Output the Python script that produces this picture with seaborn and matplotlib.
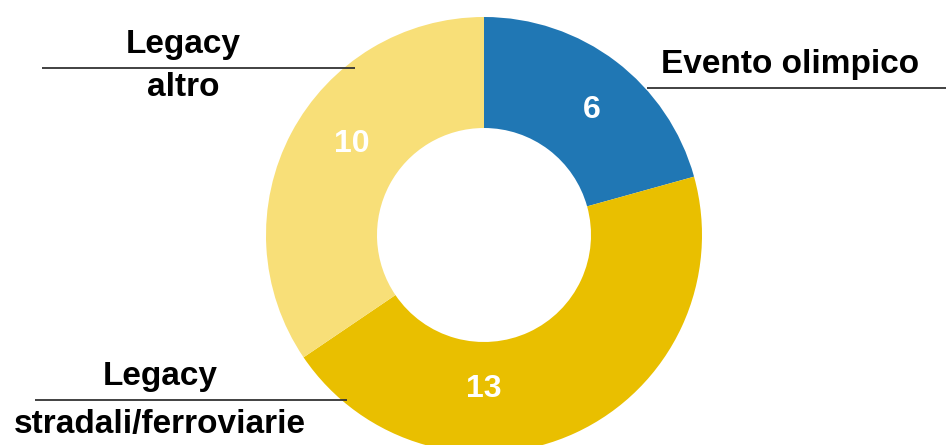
import matplotlib
matplotlib.use("Agg")
import matplotlib.pyplot as plt
import seaborn as sns

sns.set_theme(style="white")
plt.rcParams["font.family"] = ["Liberation Sans", "DejaVu Sans"]

# data
categories = ["Evento olimpico", "Legacy stradali/ferroviarie", "Legacy altro"]
values = [6, 13, 10]
colors = ["#2077b4", "#e9bf00", "#f8df78"]

# label layout (pixel coords, y from top)
value_pos = [(592, 110), (484, 389), (352, 144)]
name_lines = [
    ("Evento olimpico", None, 790, 64, None, 88, (647, 946)),
    ("Legacy", "stradali/ferroviarie", 160, 377, 424, 400, (35, 347)),
    ("Legacy", "altro", 183, 44, 87, 68, (42, 355)),
]

W, H = 946, 445
fig = plt.figure(figsize=(W / 100, H / 100), dpi=100)
ax = fig.add_axes([0, 0, 1, 1])

cx, cy, r_out = 484, H - 235, 218
ax.pie(
    values,
    colors=colors,
    startangle=90,
    counterclock=False,
    center=(cx, cy),
    radius=r_out,
    wedgeprops={"width": r_out - 107, "linewidth": 0},
    frame=True,
)
ax.set_xlim(0, W)
ax.set_ylim(0, H)
ax.axis("off")

for v, (x, y) in zip(values, value_pos):
    ax.text(x, H - y, str(v), color="white", fontsize=23, fontweight="bold",
            ha="center", va="center")

for top, bottom, x, y1, y2, ly, (lx0, lx1) in name_lines:
    ax.text(x, H - y1, top, fontsize=24, fontweight="bold", color="black",
            ha="center", va="center")
    if bottom:
        ax.text(x, H - y2, bottom, fontsize=24, fontweight="bold", color="black",
                ha="center", va="center")
    ax.plot([lx0, lx1], [H - ly, H - ly], color="#333333", linewidth=1.3,
            solid_capstyle="butt")

fig.savefig("out.png", dpi=100, facecolor="white")
